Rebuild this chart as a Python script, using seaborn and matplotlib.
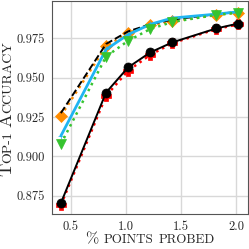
import numpy as np
import pandas as pd
import matplotlib
matplotlib.use('Agg')
import matplotlib.pyplot as plt
import seaborn as sns

# fraction of points probed (%)
probed = [0.41, 0.82, 1.02, 1.22, 1.42, 1.82, 2.02]

acc_red = [0.8690, 0.9385, 0.9545, 0.9645, 0.9720, 0.9810, 0.9840]
acc_black = [0.8702, 0.9406, 0.9566, 0.9661, 0.9725, 0.9814, 0.9845]
acc_orange = [0.9258, 0.9700, 0.9785, 0.9835, 0.9860, 0.9900, 0.9915]
acc_dashed = [0.9275, 0.9715, 0.9795, 0.9840, 0.9870, 0.9905, 0.9920]
acc_blue = [0.9130, 0.9680, 0.9775, 0.9840, 0.9880, 0.9905, 0.9920]
acc_green = [0.9078, 0.9635, 0.9735, 0.9810, 0.9855, 0.9900, 0.9915]

series = {
    'red': acc_red,
    'black': acc_black,
    'orange': acc_orange,
    'dashed': acc_dashed,
    'blue': acc_blue,
    'green': acc_green,
}
df = pd.concat([pd.DataFrame({'probed': probed, 'acc': v, 'run': k})
                for k, v in series.items()], ignore_index=True)

styles = {
    'red': dict(color='red', linestyle=':', marker='P', markersize=7, lw=1.8),
    'black': dict(color='black', linestyle='-', marker='o', markersize=6.5, lw=1.4),
    'orange': dict(color='darkorange', linestyle=':', marker='D', markersize=6, lw=1.8),
    'dashed': dict(color='black', linestyle='--', marker=None, lw=1.4),
    'blue': dict(color='#1fb4f2', linestyle='-', marker='+', markersize=5, lw=2.0),
    'green': dict(color='#36c42f', linestyle=':', marker='v', markersize=6.5, lw=1.8),
}

sns.set_style('whitegrid', {'grid.color': '#d8d8d8', 'axes.edgecolor': '#555555'})
plt.rcParams['font.family'] = ['cmr10', 'DejaVu Serif']
plt.rcParams['axes.formatter.use_mathtext'] = True

fig = plt.figure(figsize=(2.49, 2.49), dpi=100)
ax = fig.add_axes([0.209, 0.14, 0.785, 0.855])

for name in series:
    st = styles[name]
    sns.lineplot(data=df[df.run == name], x='probed', y='acc', ax=ax,
                 color=st['color'], linestyle=st['linestyle'], marker=st['marker'],
                 markersize=st.get('markersize', 6), linewidth=st['lw'],
                 markeredgewidth=0.5, markeredgecolor=st['color'], legend=False)

ax.set_xlim(0.33, 2.103)
ax.set_ylim(0.8632, 0.9987)
ax.set_xticks([0.5, 1.0, 1.5, 2.0])
ax.set_yticks([0.875, 0.900, 0.925, 0.950, 0.975])
ax.set_xticklabels(['0.5', '1.0', '1.5', '2.0'])
ax.set_yticklabels(['0.875', '0.900', '0.925', '0.950', '0.975'])
ax.tick_params(labelsize=9, length=3, width=0.6, color='#555555', pad=2)
ax.grid(linewidth=1.0)
ax.set_xlabel('')
ax.set_ylabel('')
for s in ax.spines.values():
    s.set_linewidth(0.8)


def smallcaps_label(pieces, vertical, pos, center_px, length_px):
    """Chain text pieces of mixed size to fake LaTeX small caps."""
    texts = []
    for txt, sz, gap in pieces:
        if not texts:
            if vertical:
                t = fig.text(pos, 0.5, txt, fontsize=sz, rotation=90, ha='right', va='bottom')
            else:
                t = fig.text(0.5, pos, txt, fontsize=sz, ha='left', va='bottom')
        else:
            xy = (1, 1) if vertical else (1, 0)
            off = (0, gap) if vertical else (gap, 0)
            t = ax.annotate(txt, xy=xy, xycoords=texts[-1], xytext=off,
                            textcoords='offset points', fontsize=sz,
                            rotation=90 if vertical else 0,
                            ha='right' if vertical else 'left', va='bottom',
                            annotation_clip=False)
        texts.append(t)
    r = fig.canvas.get_renderer()
    fig.canvas.draw()
    a, b = texts[0].get_window_extent(r), texts[-1].get_window_extent(r)
    length = (b.y1 - a.y0) if vertical else (b.x1 - a.x0)
    k = length_px / length
    for t, (txt, sz, gap) in zip(texts, pieces):
        t.set_fontsize(sz * k)
    fig.canvas.draw()
    a, b = texts[0].get_window_extent(r), texts[-1].get_window_extent(r)
    if vertical:
        mid = (a.y0 + b.y1) / 2
        texts[0].set_y(0.5 + (center_px - mid) / fig.bbox.height)
    else:
        mid = (a.x0 + b.x1) / 2
        texts[0].set_x(0.5 + (center_px - mid) / fig.bbox.width)


H = fig.bbox.height
# reference: y label spans 41..177 px from top, x label spans 85..215 px
smallcaps_label([('T', 10.5, 0), ('OP-1', 8, 0), ('A', 10.5, 3), ('CCURACY', 8, 0)],
                True, 0.058, H - 109, 136)
smallcaps_label([('%', 10.5, 0), ('POINTS', 8.5, 3.5), ('PROBED', 8.5, 3.5)],
                False, 0.012, 150, 130)

fig.savefig('out.png', dpi=100)
